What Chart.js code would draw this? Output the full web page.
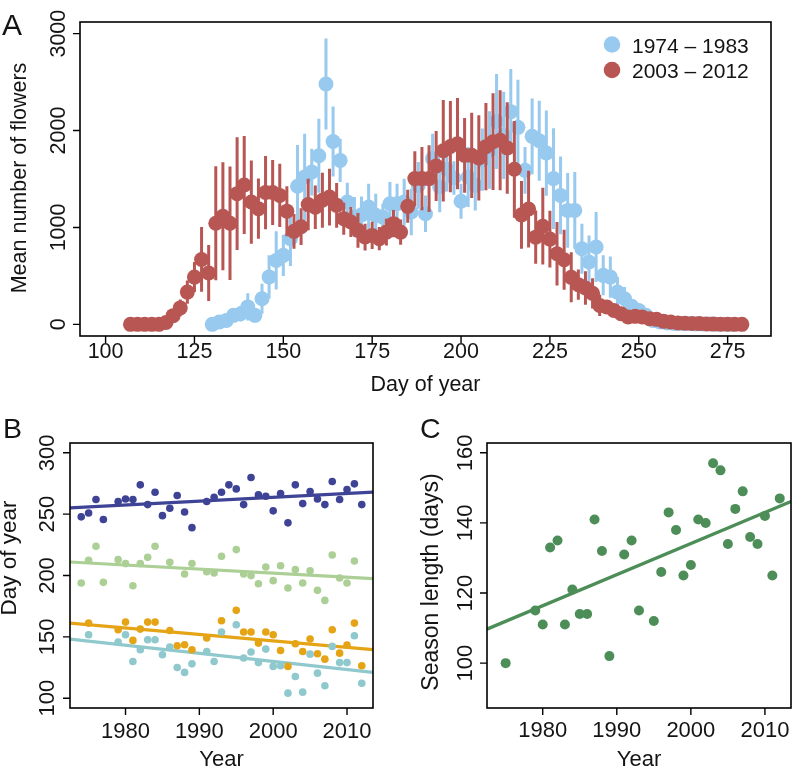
<!DOCTYPE html>
<html><head><meta charset="utf-8">
<script src="https://cdn.jsdelivr.net/npm/chart.js@4"></script>
<style>
html,body{margin:0;padding:0;background:#fff;width:799px;height:770px;overflow:hidden;}
canvas{position:absolute;}
</style></head><body>
<canvas id="cA" width="799" height="410" style="left:0;top:0"></canvas>
<canvas id="cB" width="400" height="380" style="left:0;top:390px"></canvas>
<canvas id="cC" width="399" height="380" style="left:400px;top:390px"></canvas>
<script>
// ---------- Panel A data ----------
const daysEarly = [130,132,134,136,138,140,142,144,146,148,150,152,154,156,158,160,162,164,166,168,170,172,174,176,178,180,182,184,186,188,190,192,194,196,198,200,202,204,206,208,210,212,214,216,218,220,222,224,226,228,230,232,234,236,238,240,242,244,246,248,250,252,254,256,258,260,262,264,266,268,270,272,274,276];
const flowersEarly = [0,24,41,93,110,180,93,265,490,660, 712,884,1425,1520,1572,1740,2480,1887,1692,1262, 1107,1130,1211,1125,1107,1245,1245,1262,1160,1434, 1142,1710,1417,1600,1510,1270,1520,1434,1700,1800, 2093,1950,2195,2033,1589,1940,1895,1768,1504,1331, 1176,1176,781,643,798,506,488,333,265,186, 144,93,41,25,15,10,8,6,5,4, 3,2,1,0];
const errEarly = [0,10,20,60,80,140,70,155,224,300, 213,282,427,447,241,382,470,361,224,200, 206,189,241,224,138,224,206,241,240,241, 189,258,260,230,172,180,310,258,320,400, 490,450,440,490,241,390,413,440,520,400, 385,396,258,275,361,206,213,155,120,60, 50,30,15,10,8,6,5,4,3,2, 2,1,1,0];
const daysLate = [107,109,111,113,115,117,119,121,123,125,127,129,131,133,135,137,139,141,143,145,147,149,151,153,155,157,159,161,163,165,167,169,171,173,175,177,179,181,183,185,187,189,191,193,195,197,199,201,203,205,207,209,211,213,215,217,219,221,223,225,227,229,231,233,235,237,239,241,243,245,247,249,251,253,255,257,259,261,263,265,267,269,271,273,275,277,279];
const flowersLate = [0,0,0,0,0,20,90,170,333,488, 670,530,1043,1115,1043,1349,1438,1262,1194,1360, 1360,1331,1168,960,1008,1236,1208,1280,1314,1228, 1091,1056,970,901,918,884,952,1039,952,1218, 1504,1504,1504,1635,1792,1835,1864,1744,1744,1718, 1834,1885,1900,1820,1600,1130,1190,900,1013,880, 729,667,485,410,375,320,196,179,144,110, 76,83,76,59,52,31,24,15,12,10, 8,5,3,2,1,0,0];
const errLate = [0,0,0,0,0,20,40,86,120,155, 334,289,588,557,585,581,506,430,310,378, 335,327,258,180,189,266,224,284,293,231, 165,155,180,138,140,120,138,140,130,170, 282,327,344,361,523,471,471,385,440,440, 450,499,516,473,499,350,396,275,396,292, 327,310,258,155,172,155,110,60,50,40, 30,20,15,12,10,8,6,5,4,3, 2,2,1,1,0,0,0];
const legendLabelsA = ['1974 – 1983', '2003 – 2012'];
const ticksDayA = [100,125,150,175,200,225,250,275];
const ticksFlowersA = [0,1000,2000,3000];

// ---------- Panel B data ----------
const yearsLast = [1974,1975,1976,1977,1979,1980,1981,1982,1983,1984,1985,1986,1987,1988,1989,1991,1992,1993,1994,1995,1996,1997,1998,1999,2000,2001,2002,2003,2004,2005,2006,2007,2008,2009,2010,2011,2012];
const dayLast = [247.8,251.0,261.9,245.6,260.3,262.4,261.9,273.9,257.8,267.9,248.8,254.8,265.2,251.8,239.0,260.3,263.8,267.9,273.9,270.6,257.8,279.9,265.7,264.6,252.7,266.8,242.9,273.9,258.6,268.4,262.4,257.8,276.6,261.9,270.1,274.7,257.8];
const yearsMid = [1974,1975,1976,1977,1979,1980,1981,1982,1983,1984,1986,1988,1989,1991,1992,1993,1995,1996,1997,1998,1999,2000,2001,2002,2003,2004,2005,2006,2007,2008,2009,2010,2011];
const dayMid = [193.9,212.4,223.8,194.4,212.9,209.7,191.7,209.7,214.8,223.8,210.7,201.2,209.7,203.1,202.0,215.6,221.1,201.2,199.9,193.3,206.9,195.8,208.0,189.8,204.8,193.9,203.9,187.9,179.7,216.7,198.0,193.9,211.8];
const yearsOnset = [1975,1979,1980,1981,1982,1983,1984,1986,1987,1988,1989,1991,1993,1995,1996,1997,1998,1999,2000,2001,2002,2003,2004,2005,2006,2007,2008,2009,2010,2011,2012];
const dayOnset = [161.2,155.8,162.0,147.1,156.3,162.0,162.0,155.2,142.7,143.5,139.5,149.0,163.1,171.6,153.9,153.9,144.9,153.9,151.7,138.9,125.9,144.4,138.1,148.2,136.2,131.8,155.8,136.7,143.3,161.2,126.4];
const yearsFirst = [1975,1979,1980,1981,1982,1983,1984,1985,1986,1987,1988,1989,1991,1992,1993,1995,1996,1997,1998,1999,2000,2001,2002,2003,2004,2005,2006,2007,2008,2009,2010,2011,2012];
const dayFirst = [151.7,145.7,151.7,129.9,139.5,147.6,147.6,135.4,141.6,125.0,121.0,128.0,138.1,129.9,153.9,159.9,132.7,137.6,129.0,140.0,125.9,126.4,104.1,117.7,104.9,135.9,120.4,110.1,142.2,129.0,129.0,150.9,112.2];
const fitYears = [1972.48, 2013.52];
const fitLast = [255.1, 267.9];
const fitMid = [211.0, 197.4];
const fitOnset = [161.2, 139.5];
const fitFirst = [148.2, 121.0];
const ticksYearB = [1980,1990,2000,2010];
const ticksDayB = [100,150,200,250,300];

// ---------- Panel C data ----------
const yearsC = [1975,1979,1980,1981,1982,1983,1984,1985,1986,1987,1988,1989,1991,1992,1993,1995,1996,1997,1998,1999,2000,2001,2002,2003,2004,2005,2006,2007,2008,2009,2010,2011,2012];
const seasonLength = [100,115,111,133,135,111,121,114,114,141,132,102,131,135,115,112,126,143,138,125,128,141,140,157,155,134,144,149,136,134,142,125,147];
const fitSeason = [109.7, 146.1];
const ticksYearC = [1980,1990,2000,2010];
const ticksLenC = [100,120,140,160];

// ---------- helpers ----------
const FONT = '"Liberation Sans", Arial, Helvetica, sans-serif';
const TXT = '#141414';
const pts = (xs, ys) => xs.map((x, i) => ({x, y: ys[i]}));
const errSegs = (xs, ys, es) => {
  const out = [];
  xs.forEach((x, i) => { out.push({x, y: ys[i] - es[i]}, {x, y: ys[i] + es[i]}, {x, y: null}); });
  return out;
};

const rAxes = {
  id: 'rAxes',
  afterDraw(chart, args, o) {
    const {ctx, chartArea: a} = chart;
    const x = chart.scales.x, y = chart.scales.y;
    ctx.save();
    ctx.strokeStyle = '#000';
    ctx.lineWidth = 1.6;
    ctx.strokeRect(a.left, a.top, a.right - a.left, a.bottom - a.top);
    ctx.lineWidth = 1.4;
    ctx.beginPath();
    o.xTicks.forEach(v => { const px = x.getPixelForValue(v); ctx.moveTo(px, a.bottom); ctx.lineTo(px, a.bottom + o.tick); });
    o.yTicks.forEach(v => { const py = y.getPixelForValue(v); ctx.moveTo(a.left, py); ctx.lineTo(a.left - o.tick, py); });
    ctx.stroke();
    ctx.fillStyle = TXT;
    ctx.textAlign = 'center';
    ctx.textBaseline = 'alphabetic';
    ctx.font = o.tickSize + 'px ' + FONT;
    o.xTicks.forEach(v => ctx.fillText(String(v), x.getPixelForValue(v), a.bottom + o.xLabGap));
    o.yTicks.forEach(v => {
      ctx.save(); ctx.translate(a.left - o.yLabGap, y.getPixelForValue(v)); ctx.rotate(-Math.PI / 2);
      ctx.fillText(String(v), 0, 0); ctx.restore();
    });
    ctx.font = o.xTitleSize + 'px ' + FONT;
    ctx.fillText(o.xTitle, (a.left + a.right) / 2, o.xTitleY);
    ctx.font = o.yTitleSize + 'px ' + FONT;
    ctx.save(); ctx.translate(o.yTitleX, o.yTitleY); ctx.rotate(-Math.PI / 2);
    ctx.fillText(o.yTitle, 0, 0); ctx.restore();
    ctx.font = o.letterSize + 'px ' + FONT;
    ctx.textAlign = 'left';
    ctx.fillText(o.letter, o.letterX, o.letterY);
    if (o.legend) {
      const L = o.legend;
      ctx.font = L.size + 'px ' + FONT;
      L.labels.forEach((lab, i) => {
        const cy = L.y + i * L.dy;
        ctx.fillStyle = L.colors[i];
        ctx.beginPath(); ctx.arc(L.x, cy, L.r, 0, Math.PI * 2); ctx.fill();
        ctx.fillStyle = TXT;
        ctx.fillText(lab, L.x + L.textDx, cy + L.baseDy);
      });
    }
    ctx.restore();
  }
};

const base = (pad, xr, yr, axes) => ({
  responsive: false, animation: false, events: [],
  layout: {padding: pad},
  plugins: {legend: {display: false}, tooltip: {enabled: false}, rAxes: axes},
  scales: {
    x: {type: 'linear', min: xr[0], max: xr[1], display: false, offset: false},
    y: {type: 'linear', min: yr[0], max: yr[1], display: false}
  }
});

const BLUE = 'rgb(152,201,238)';
const RED = 'rgb(184,86,83)';

// ---------- Panel A ----------
new Chart(document.getElementById('cA'), {
  type: 'scatter',
  data: {datasets: [
    {type: 'line', data: errSegs(daysEarly, flowersEarly, errEarly), borderColor: BLUE, borderWidth: 3, pointRadius: 0, spanGaps: false, borderCapStyle: 'butt', order: 4},
    {data: pts(daysEarly, flowersEarly), backgroundColor: BLUE, borderWidth: 0, pointRadius: 7.5, order: 3},
    {type: 'line', data: errSegs(daysLate, flowersLate, errLate), borderColor: RED, borderWidth: 3, pointRadius: 0, spanGaps: false, borderCapStyle: 'butt', order: 2},
    {data: pts(daysLate, flowersLate), backgroundColor: RED, borderWidth: 0, pointRadius: 7.5, order: 1}
  ]},
  options: base({left: 80, top: 22, right: 28, bottom: 74}, [92.8, 287.2], [-120, 3120], {
    xTicks: ticksDayA, yTicks: ticksFlowersA, tick: 7, tickSize: 21.5, xLabGap: 22, yLabGap: 15,
    xTitle: 'Day of year', xTitleY: 391, xTitleSize: 21.5,
    yTitle: 'Mean number of flowers', yTitleX: 26, yTitleY: 178, yTitleSize: 21.5,
    letter: 'A', letterX: 2, letterY: 35, letterSize: 30,
    legend: {labels: legendLabelsA, colors: [BLUE, RED], x: 612, y: 44.5, dy: 25.5, r: 8.3, textDx: 20, baseDy: 8, size: 21}
  }),
  plugins: [rAxes]
});

// ---------- Panel B ----------
const NAVY = 'rgb(62,67,150)', LGREEN = 'rgb(172,207,150)', ORANGE = 'rgb(229,164,22)', TEAL = 'rgb(143,200,205)';
const ptB = (xs, ys, c) => ({data: pts(xs, ys), backgroundColor: c, borderWidth: 0, pointRadius: 3.8});
const lnB = (ys, c) => ({type: 'line', data: pts(fitYears, ys), borderColor: c, borderWidth: 3.2, pointRadius: 0});
new Chart(document.getElementById('cB'), {
  type: 'scatter',
  data: {datasets: [
    ptB(yearsLast, dayLast, NAVY), ptB(yearsMid, dayMid, LGREEN), ptB(yearsFirst, dayFirst, TEAL), ptB(yearsOnset, dayOnset, ORANGE),
    lnB(fitLast, NAVY), lnB(fitMid, LGREEN), lnB(fitOnset, ORANGE), lnB(fitFirst, TEAL)
  ]},
  options: base({left: 70, top: 53, right: 27, bottom: 62}, [1972.48, 2013.52], [92, 308], {
    xTicks: ticksYearB, yTicks: ticksDayB, tick: 7, tickSize: 22, xLabGap: 30, yLabGap: 16.5,
    xTitle: 'Year', xTitleY: 376, xTitleSize: 22,
    yTitle: 'Day of year', yTitleX: 16, yTitleY: 168, yTitleSize: 22.5,
    letter: 'B', letterX: 3, letterY: 48, letterSize: 28.5
  }),
  plugins: [rAxes]
});

// ---------- Panel C ----------
const GREEN = 'rgb(77,142,88)';
new Chart(document.getElementById('cC'), {
  type: 'scatter',
  data: {datasets: [
    {data: pts(yearsC, seasonLength), backgroundColor: GREEN, borderWidth: 0, pointRadius: 5},
    {type: 'line', data: pts(fitYears, fitSeason), borderColor: GREEN, borderWidth: 3.3, pointRadius: 0}
  ]},
  options: base({left: 87, top: 53, right: 8, bottom: 62}, [1972.48, 2013.52], [87.2, 162.8], {
    xTicks: ticksYearC, yTicks: ticksLenC, tick: 7, tickSize: 22, xLabGap: 29, yLabGap: 15.5,
    xTitle: 'Year', xTitleY: 376, xTitleSize: 22,
    yTitle: 'Season length (days)', yTitleX: 38, yTitleY: 192, yTitleSize: 23,
    letter: 'C', letterX: 20, letterY: 48, letterSize: 28.5
  }),
  plugins: [rAxes]
});
</script>
</body></html>
